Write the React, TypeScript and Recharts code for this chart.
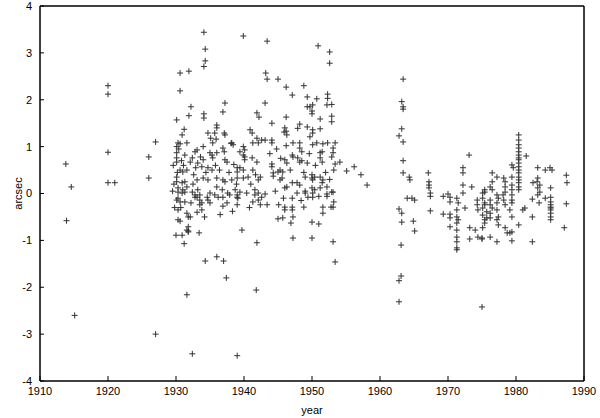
import React from 'react';
import { ScatterChart, Scatter, XAxis, YAxis, ReferenceArea } from 'recharts';

// tick labels
const yearTicks = [1910, 1920, 1930, 1940, 1950, 1960, 1970, 1980, 1990];
const arcsecTicks = [-4, -3, -2, -1, 0, 1, 2, 3, 4];

// [year, arcsec]
const early: [number, number][] = [
  [1913.8, 0.63], [1914.6, 0.14], [1913.9, -0.58], [1915.1, -2.6], [1920, 2.3], [1920, 2.12],
  [1920, 0.88], [1920, 0.23], [1921, 0.23], [1926, 0.78], [1926, 0.33], [1927, 1.1], [1927, -3.0],
];

const thirties: [number, number][] = [
  [1932.4, -3.42], [1931.6, -2.16], [1939, -3.46], [1941.8, -2.06], [1937.4, -1.8], [1934.3, -1.44],
  [1936, -1.35], [1937, -1.44], [1939.7, -0.78], [1941.9, -1.05], [1931.2, -1.07], [1933.4, -0.84],
  [1930, -0.89], [1930.9, -0.89], [1931.8, -0.8],
  [1934.1, 3.44], [1939.9, 3.36], [1934.3, 3.08], [1934.3, 2.83], [1934.1, 2.71], [1930.6, 2.57],
  [1931.9, 2.61], [1930.6, 2.19], [1932.2, 1.85], [1931.9, 1.66], [1937.2, 1.93], [1936.9, 1.74],
  [1934.1, 1.7], [1934.1, 1.61], [1930.1, 1.57], [1931.2, 1.37], [1930.9, 1.25], [1930.6, 1.06],
  [1941.9, 1.72], [1942.2, 1.63], [1934.7, 1.29], [1936, 1.46], [1936, 1.4], [1937.2, 1.25],
  [1940.9, 1.36], [1941.2, 1.29], [1938.1, 1.07], [1935.1, 1.18], [1935.9, 1.16],
  [1935.7, 1.29], [1937.1, 1.29], [1930.3, 1.08], [1931.6, 1.08], [1935.4, 1.08], [1942.1, 1.08],
  [1941.9, 1.18], [1930.1, 1.0], [1933.1, 0.93], [1932.8, 0.89], [1934, 1.0], [1936.9, 0.97],
  [1937.1, 0.89], [1938.2, 1.08], [1938.4, 1.04], [1939.9, 1.0], [1940.1, 0.93], [1941.3, 1.08],
  [1942.6, 1.14], [1930.1, 0.87], [1930.1, 0.76], [1930.1, 0.67], [1931.3, 0.82], [1932.4, 0.76],
  [1932.1, 0.67], [1935, 0.87], [1935.3, 0.82], [1936, 0.87], [1935.4, 0.76], [1937.2, 0.72],
  [1937.5, 0.67], [1934, 0.72], [1939.4, 0.89], [1939.9, 0.82], [1940.1, 0.78], [1940.1, 0.72],
  [1941.2, 0.76], [1941.9, 0.67], [1933.2, 0.65], [1933.8, 0.57], [1930.6, 0.5], [1931, 0.46],
  [1931.6, 0.5], [1934.7, 0.55], [1935.3, 0.5], [1939, 0.55], [1939.4, 0.55], [1939.9, 0.5],
  [1939, 0.46], [1941.3, 0.5], [1933.1, 0.29], [1934, 0.33], [1934.7, 0.29], [1936, 0.33],
  [1936.9, 0.29], [1937.2, 0.25], [1938.2, 0.29], [1939, 0.33], [1939.9, 0.33], [1942.1, 0.29],
  [1942.4, 0.35], [1930.1, 0.35], [1930.1, 0.25], [1930.9, 0.23], [1931.3, 0.25], [1930.3, 0.12],
  [1931, 0.08], [1931.6, 0.14], [1936, 0.14], [1936.8, 0.08], [1935.7, -0.03], [1938.7, 0.08],
  [1939.4, 0.03], [1939, -0.08], [1941.6, 0.08], [1942.1, 0.01], [1933.2, 0.08], [1933.5, -0.03],
  [1932.8, -0.08], [1934.6, -0.08], [1935, 0.01],
  [1930.3, 0.03], [1930.9, 0.01], [1931.3, 0.03], [1932.4, 0.03], [1932.8, -0.03], [1933.1, -0.08],
  [1930.1, -0.14], [1930.3, -0.1], [1930.6, -0.18], [1931.3, -0.18], [1933.5, -0.14], [1933.8, -0.2],
  [1933.5, -0.24], [1934.7, -0.14], [1935, -0.2], [1936.2, -0.08], [1936.9, -0.08], [1937.6, 0.01],
  [1937.9, -0.03], [1939, -0.03], [1936.9, -0.27], [1939, -0.24], [1930.3, -0.35], [1933.1, -0.4],
  [1933.8, -0.35], [1931.6, -0.42], [1931.8, -0.5], [1932.1, -0.5], [1930.3, -0.56], [1930.6, -0.59],
  [1931.8, -0.71], [1931.8, -0.82], [1931.6, -0.78], [1941.3, -0.18], [1942.1, -0.14], [1942.4, -0.24],
  [1941.6, -0.03], [1942.6, -0.08], [1939.1, -0.1], [1940.4, 0.01],
  [1929.6, 0.6], [1929.7, 0.2], [1929.8, -0.3], [1929.5, 0.05],
  [1930.2, 0.45], [1930.4, 0.95], [1930.8, 0.7], [1931.1, 0.6], [1932.6, 0.4], [1932.9, 0.55],
  [1933.6, 0.78], [1934.4, 0.45], [1935.8, 0.6], [1936.4, 0.5], [1937.8, 0.45], [1938.5, 0.62],
  [1938.9, 0.2], [1940.6, 0.35], [1941, 0.2], [1941.7, 0.4], [1932.2, -0.2], [1934.2, -0.5],
  [1936.5, -0.45], [1937.5, -0.2], [1938.3, -0.38], [1940.8, -0.3], [1930.7, -0.3], [1932.5, 0.2],
];

const forties: [number, number][] = [
  [1943.4, 3.25], [1943.2, 2.57], [1943.4, 2.44], [1945, 2.44], [1946.2, 2.27], [1947.1, 2.1],
  [1943.1, 1.93], [1944.1, 1.5], [1946.2, 1.63], [1946, 1.4], [1946.2, 1.33], [1947.2, -0.95],
  [1948.8, 2.3], [1950.9, 3.15], [1952.6, 3.02], [1952.6, 2.78],
  [1949.3, 2.06], [1950.7, 2.02], [1952.3, 2.12], [1952.3, 2.03], [1952.9, 1.9], [1952.2, 1.89],
  [1949.3, 1.85], [1949.7, 1.85], [1950.1, 1.89], [1950, 1.76], [1950, 1.7], [1952.9, 1.65],
  [1952.9, 1.53], [1951.2, 1.59], [1949.3, 1.42], [1948.2, 1.48], [1947.9, 1.39], [1950.1, 1.36],
  [1950.1, 1.29], [1951.2, 1.38], [1949.7, 1.21], [1945.9, 1.31], [1946.3, 1.25], [1943.1, 1.14],
  [1944.1, 1.14], [1944.1, 1.08], [1947.2, 1.08], [1948.2, 1.08], [1946.2, 1.02], [1948.2, 0.97],
  [1948.5, 0.89], [1950.1, 1.04], [1950.7, 1.08], [1951.6, 1.06], [1952.3, 1.08], [1953.4, 1.08],
  [1951.5, 0.89], [1951.2, 0.87], [1953.1, 0.97], [1953.1, 0.87], [1952.9, 0.78], [1947.1, 0.82],
  [1947.2, 0.78], [1946, 0.72], [1946.3, 0.65], [1944.1, 0.63], [1944.1, 0.57], [1947.9, 0.76],
  [1948.2, 0.67], [1948.5, 0.7], [1949.3, 0.65], [1951.2, 0.76], [1951.5, 0.67], [1954.1, 0.67],
  [1953.4, 0.63], [1953.2, 0.5], [1955.1, 0.48], [1956.2, 0.57], [1957.2, 0.4], [1958.1, 0.18],
  [1945, 0.46], [1945.3, 0.5], [1945.7, 0.46], [1944.3, 0.44], [1944.3, 0.37], [1945.3, 0.29],
  [1945.6, 0.33], [1947.1, 0.23], [1946.3, 0.14], [1946, 0.12], [1949, 0.35], [1950, 0.4],
  [1950, 0.33], [1950.1, 0.29], [1950.4, 0.35], [1951.2, 0.35], [1951.6, 0.29], [1951.5, 0.23],
  [1947.8, 0.23], [1948.2, 0.18], [1950, 0.12], [1950.4, 0.08], [1951.2, 0.12], [1952.2, 0.14],
  [1952.9, 0.03], [1949, 0.01], [1949.4, -0.08], [1947.1, -0.1],
  [1943.1, -0.01], [1943.4, -0.24], [1947.8, 0.01], [1949, 0.05], [1950.1, 0.01], [1950.1, -0.08],
  [1951, -0.06], [1952.2, -0.01], [1952.2, -0.06], [1953.1, 0.03], [1953.2, -0.18], [1945.1, -0.24],
  [1946, -0.29], [1946, -0.35], [1947.1, -0.29], [1947.1, -0.35], [1948.8, -0.29], [1951.6, -0.29],
  [1951.6, -0.42], [1952.8, -0.29], [1953.1, -0.29], [1947.2, -0.5], [1945, -0.54], [1945.7, -0.52],
  [1946.9, -0.63], [1950, -0.61], [1951, -0.65], [1950, -0.95], [1953.1, -1.03], [1953.4, -1.46],
  [1943.8, 0.85], [1944.8, 0.95], [1945.4, 0.75], [1946.8, 0.5], [1948.8, 0.45], [1949.6, 0.85],
  [1950.5, 0.6], [1952, 0.45], [1952.6, 0.3], [1944.6, 0.05], [1945.8, -0.1], [1948.4, -0.15],
];

const late: [number, number][] = [
  [1963.4, 2.44], [1963.2, 1.96], [1963.4, 1.85], [1963.4, 1.8], [1963.2, 1.38], [1962.8, 1.23],
  [1963.4, 1.1], [1963.4, 0.7], [1963.4, 0.44], [1964.3, 0.35], [1964.4, 0.29], [1964, -0.1],
  [1964.7, -0.1], [1965.1, -0.14], [1962.8, -0.33], [1963.2, -0.42], [1963.2, -0.61], [1964.9, -0.59],
  [1965.1, -0.8], [1963.1, -1.1], [1963.1, -1.76], [1962.8, -1.86], [1962.8, -2.31],
  [1967.1, 0.44], [1967.2, 0.25], [1967.2, 0.18], [1967.2, 0.12], [1967.4, 0.01], [1967.4, -0.06],
  [1967.4, -0.37],
  [1969.3, -0.06], [1970, -0.01], [1970.3, -0.08], [1970.3, -0.18], [1969.3, -0.44], [1970.3, -0.44],
  [1970.3, -0.52], [1970.3, -0.71], [1971.3, -0.1], [1971.5, -0.2], [1971.3, -0.35], [1971.3, -0.5],
  [1971.5, -0.56], [1971.3, -0.63], [1971.3, -0.78], [1971.3, -0.93], [1971.3, -1.03], [1971.3, -1.16],
  [1971.3, -1.2],
  [1972.2, 0.55], [1972.2, 0.44], [1972.2, 0.18], [1972.2, 0.01], [1973.1, 0.82], [1973.5, 0.14],
  [1972.5, -0.31], [1973.2, -0.73], [1974, -0.78], [1973.2, -0.97], [1974.4, -0.93], [1975, -0.97],
  [1974.3, -0.14], [1974.3, -0.24], [1974.4, -0.35], [1975.4, 0.03], [1975.1, -0.1], [1975.4, -0.24],
  [1975.7, -0.39], [1975.7, -0.52], [1975.4, -0.63], [1975, -2.42],
  [1980.4, 1.25], [1980.4, 1.14], [1980.4, 1.04], [1980.4, 0.97], [1980.4, 0.89], [1980.4, 0.82],
  [1980.4, 0.76], [1980.4, 0.72], [1980.4, 0.65], [1980.4, 0.57], [1980.4, 0.5], [1980.4, 0.44],
  [1980.4, 0.35], [1980.4, 0.29], [1980.4, 0.23], [1980.4, 0.14], [1980.4, 0.08],
  [1981.5, 0.8], [1979.4, 0.61], [1979.6, 0.55], [1979.4, 0.35], [1979.4, 0.18], [1979.4, 0.08],
  [1978.2, 0.33], [1978.4, 0.25], [1978.4, 0.14], [1976.5, 0.44], [1977.2, 0.35], [1976.5, 0.25],
  [1976.2, 0.14], [1976.5, 0.08], [1975.4, 0.08], [1975.1, 0.01], [1983.2, 0.55], [1984.3, 0.5],
  [1985, 0.55], [1985.3, 0.5], [1983.2, 0.33], [1983.1, 0.25], [1983.5, 0.18], [1983.2, 0.12],
  [1983.5, 0.03], [1983.2, -0.03], [1982.5, 0.23], [1982.4, -0.12], [1984.3, -0.1],
  [1985.1, 0.12], [1985.1, -0.08], [1985.1, -0.18], [1985.1, -0.24], [1985.1, -0.29], [1985.1, -0.31],
  [1985.1, -0.35], [1985.1, -0.42], [1985.1, -0.5], [1985.1, -0.56],
  [1987.4, 0.39], [1987.5, 0.23], [1987.4, -0.22], [1987.1, -0.73], [1983.4, -0.2], [1982.4, -0.5],
  [1981.3, -0.31], [1981, -0.35], [1982.4, -1.03], [1980.4, -0.67], [1979.4, -0.03], [1979.4, -0.14],
  [1979.4, -0.2], [1978.4, 0.03], [1978.1, -0.03], [1978.2, -0.14], [1978.4, -0.24], [1979.1, -0.35],
  [1979.4, -0.5], [1977.2, -0.03], [1977.4, -0.1], [1977.2, -0.2], [1977.2, -0.35], [1977.4, -0.5],
  [1977.2, -0.56], [1977.4, -0.67], [1976.2, -0.14], [1976.2, -0.24], [1976.5, -0.31], [1976.2, -0.42],
  [1976.2, -0.52], [1975.4, -0.2], [1975.1, -0.31], [1975.1, -0.46], [1975.4, -0.56], [1975.1, -0.73],
  [1978.4, -0.73], [1978.7, -0.84], [1979.4, -0.82], [1979.1, -0.84], [1976.2, -0.93], [1977.2, -1.03],
  [1979.4, -1.01], [1975, -0.95],
];

const points = [...early, ...thirties, ...forties, ...late].map(([x, y]) => ({ x, y }));

const font = 'Liberation Sans, Arial, Helvetica, sans-serif';

// gnuplot style "+" marker
const Cross = (props: any) => {
  const { cx, cy } = props;
  if (cx == null || cy == null) return null;
  return (
    <path
      d={`M${cx - 3},${cy}H${cx + 3}M${cx},${cy - 3}V${cy + 3}`}
      stroke="#333"
      strokeWidth={1}
      fill="none"
    />
  );
};

const YLabel = (props: any) => {
  const vb = props.viewBox || { x: 0, y: 0, width: 40, height: 375 };
  const x = vb.x + 18;
  const y = vb.y + vb.height / 2;
  return (
    <text x={x} y={y} transform={`rotate(-90 ${x} ${y})`} textAnchor="middle" dominantBaseline="central" fontSize={11} fill="#000" fontFamily={font}>
      arcsec
    </text>
  );
};

export default function App() {
  return (
    <div style={{ position: 'absolute', left: 0, top: 0, width: 600, height: 418, background: '#fff' }}>
      <ScatterChart width={600} height={418} margin={{ top: 5, right: 15, bottom: 0, left: 0 }} style={{ fontFamily: font }}>
        <XAxis
          type="number"
          dataKey="x"
          domain={[1910, 1990]}
          ticks={yearTicks}
          allowDataOverflow
          height={37}
          tickSize={-5}
          tickMargin={11}
          axisLine={{ stroke: '#000' }}
          tickLine={{ stroke: '#000' }}
          tick={{ fill: '#000', fontSize: 11 }}
          label={{ value: 'year', position: 'insideBottom', offset: 4, fill: '#000', fontSize: 11 }}
        />
        <XAxis
          xAxisId="top"
          orientation="top"
          type="number"
          domain={[1910, 1990]}
          ticks={yearTicks}
          height={1}
          tickSize={-5}
          tickFormatter={() => ''}
          axisLine={{ stroke: '#000' }}
          tickLine={{ stroke: '#000' }}
        />
        <YAxis
          type="number"
          dataKey="y"
          domain={[-4, 4]}
          ticks={arcsecTicks}
          allowDataOverflow
          width={40}
          tickSize={-4}
          tickMargin={12}
          axisLine={{ stroke: '#000' }}
          tickLine={{ stroke: '#000' }}
          tick={{ fill: '#000', fontSize: 11 }}
          label={{ content: YLabel }}
        />
        <YAxis
          yAxisId="right"
          orientation="right"
          type="number"
          domain={[-4, 4]}
          ticks={arcsecTicks}
          width={1}
          tickSize={-4}
          tickFormatter={() => ''}
          axisLine={{ stroke: '#000' }}
          tickLine={{ stroke: '#000' }}
        />
        <ReferenceArea x1={1910} x2={1990} y1={-4} y2={4} stroke="#000" strokeOpacity={1} fill="none" ifOverflow="visible" />
        <Scatter data={points} shape={Cross} isAnimationActive={false} />
      </ScatterChart>
    </div>
  );
}
